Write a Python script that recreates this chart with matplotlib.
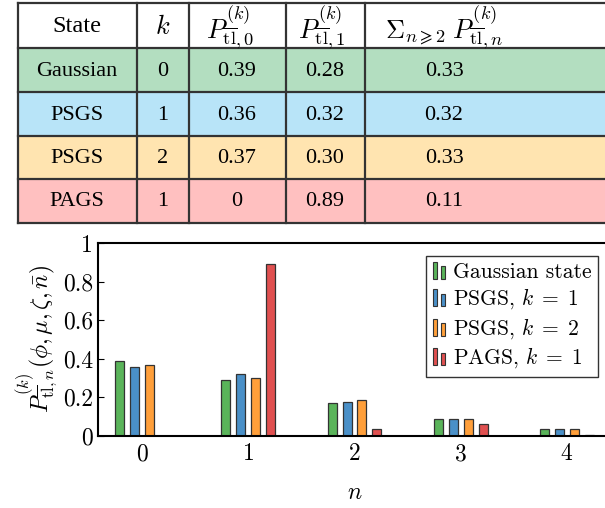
import numpy as np
import matplotlib.pyplot as plt
from matplotlib.patches import Rectangle
from matplotlib.legend_handler import HandlerBase

plt.rcParams['mathtext.fontset'] = 'cm'
plt.rcParams['font.family'] = ['cmr10', 'DejaVu Serif']
plt.rcParams['axes.formatter.use_mathtext'] = True

# data
n_vals = [0, 1, 2, 3, 4]
gauss = [0.387, 0.289, 0.172, 0.086, 0.038]
psgs1 = [0.359, 0.320, 0.178, 0.086, 0.035]
psgs2 = [0.366, 0.302, 0.188, 0.086, 0.036]
pags1 = [0.0, 0.890, 0.038, 0.064, 0.003]
series = [gauss, psgs1, psgs2, pags1]
labels = ['Gaussian state', r'PSGS, $k\;=\;1$', r'PSGS, $k\;=\;2$', r'PAGS, $k\;=\;1$']
colors = ['#5ab45a', '#4a90c8', '#ff9f3a', '#e05050']

tab_state = ['Gaussian', 'PSGS', 'PSGS', 'PAGS']
tab_k = ['0', '1', '2', '1']
tab_p0 = ['0.39', '0.36', '0.37', '0']
tab_p1 = ['0.28', '0.32', '0.30', '0.89']
tab_rest = ['0.33', '0.32', '0.33', '0.11']
tab_head = ['State', r'$k$', r'$P^{(k)}_{\overline{\mathrm{tl}},0}$',
            r'$P^{(k)}_{\overline{\mathrm{tl}},1}$',
            r'$\Sigma_{n\geqslant 2}\;P^{(k)}_{\overline{\mathrm{tl}},n}$']
row_colors = ['#b3dec0', '#b8e4f8', '#ffe4b0', '#ffc0c0']

W, H = 605, 508
fig = plt.figure(figsize=(6.05, 5.08), dpi=100)

# ---- table drawn in pixel coords ----
tab = fig.add_axes([0, 0, 1, 1])
tab.set_xlim(0, W)
tab.set_ylim(H, 0)
tab.axis('off')
col_x = [18, 137, 189, 286, 365, 640]
row_y = [3, 48, 92, 136, 179, 223]
head_c = [77, 163, 230, 322, 444]
body_c = [77, 163, 237, 325, 444]
for i in range(4):
    tab.add_patch(Rectangle((col_x[0], row_y[i + 1]), col_x[-1] - col_x[0],
                            row_y[i + 2] - row_y[i + 1], color=row_colors[i], lw=0))
for x in col_x[:-1]:
    tab.plot([x, x], [row_y[0], row_y[-1]], color='#333333', lw=1.6)
for y in row_y:
    tab.plot([col_x[0], col_x[-1]], [y, y], color='#333333', lw=1.6)
head_fs = [17.5, 19, 19, 19, 19]
for j, h in enumerate(tab_head):
    tab.text(head_c[j], (row_y[0] + row_y[1]) / 2 + 1, h, ha='center', va='center',
             fontsize=head_fs[j], family=['Liberation Serif'])
for i in range(4):
    yc = (row_y[i + 1] + row_y[i + 2]) / 2 + 1
    row = [tab_state[i], tab_k[i], tab_p0[i], tab_p1[i], tab_rest[i]]
    for j, s in enumerate(row):
        tab.text(body_c[j], yc, s, ha='center', va='center', fontsize=16,
                 family=['Liberation Serif'])

# ---- bar chart ----
ax = fig.add_axes([98 / W, (H - 436) / H, 513 / W, 193 / H])
x = np.array(n_vals)
width = 0.085
offs = [-0.21, -0.07, 0.07, 0.21]
for s, c, l, o in zip(series, colors, labels, offs):
    ax.bar(x + o, s, width, color=c, edgecolor='#333333', linewidth=0.9, label=l)

ax.set_xlim(-0.415, 4.415)
ax.set_ylim(0, 1)
ax.set_xticks(n_vals)
ax.set_yticks([0, 0.2, 0.4, 0.6, 0.8, 1])
ax.set_yticklabels(['0', '0.2', '0.4', '0.6', '0.8', '1'])
ax.tick_params(axis='y', direction='in', left=True, right=True, length=4, labelsize=17)
ax.tick_params(axis='x', length=0, labelsize=17, pad=5)
for sp in ax.spines.values():
    sp.set_linewidth(1.5)
ax.set_xlabel(r'$n$', fontsize=17, labelpad=12)
ax.set_ylabel(r'$P^{(k)}_{\overline{\mathrm{tl}},n}(\phi,\mu,\zeta,\bar{n})$', fontsize=17,
              labelpad=2)


class TwoBars(HandlerBase):
    def create_artists(self, legend, orig, xd, yd, w, h, fontsize, trans):
        fc = orig.get_facecolor()
        bw = w * 0.38
        r1 = Rectangle((0, -yd - 1), bw, h * 1.15, facecolor=fc, edgecolor='#333333',
                       lw=0.8, transform=trans)
        r2 = Rectangle((w - bw, -yd - 1), bw, h * 0.85, facecolor=fc, edgecolor='#333333',
                       lw=0.8, transform=trans)
        return [r1, r2]


hs, ls = ax.get_legend_handles_labels()
leg = ax.legend([h[0] for h in hs], ls, handler_map={Rectangle: TwoBars()},
                loc='upper right', fontsize=15.5, frameon=True, fancybox=False,
                edgecolor='#333333', framealpha=1, handlelength=0.6, handletextpad=0.35,
                borderaxespad=0.6, borderpad=0.3, labelspacing=0.22)
leg.get_frame().set_linewidth(1.0)

fig.savefig('out.png', dpi=100)
